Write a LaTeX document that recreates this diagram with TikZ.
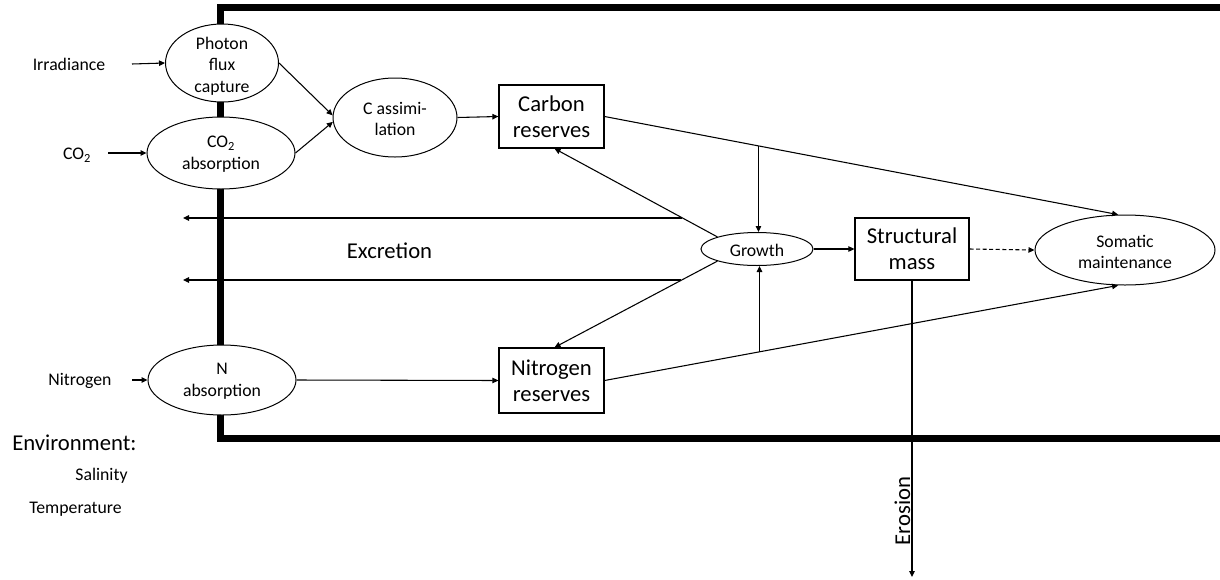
\documentclass[tikz,border=0pt]{standalone}
\usepackage{fontspec}
\setmainfont{Carlito}
\usetikzlibrary{arrows.meta,calc,shapes.geometric}
\newlength\upx
\setlength\upx{0.75pt}
\newcommand\bigtxt{\fontsize{17}{19.5}\selectfont}
\newcommand\smalltxt{\fontsize{13.3}{16.2}\selectfont}
\tikzset{
  ell/.style={ellipse, draw, fill=white, line width=0.75pt, inner sep=0pt},
  box/.style={rectangle, draw, fill=white, line width=0.9pt, inner sep=0pt, align=center, font=\bigtxt},
  stxt/.style={inner sep=0pt, align=center, font=\smalltxt},
  btxt/.style={inner sep=0pt, align=center, font=\bigtxt},
  arr/.style={line width=0.8pt, -{Triangle[length=4.5pt,width=4.1pt]}},
  frame/.style={line width=5.25pt, line join=miter}
}
\begin{document}
\begin{tikzpicture}[x=0.75pt,y=-0.75pt]
\clip (0,0) rectangle (1220,579);
\fill[white] (0,0) rectangle (1220,579);
% thick frame
\draw[frame] (1240,7.5) -- (220.5,7.5) -- (220.5,438) -- (1240,438);

% ellipses
\node[ell, minimum width=113\upx, minimum height=78\upx] (photon) at (222,63) {};
\node[stxt] (photon-t) at (222,66) {Photon\\flux\\capture};
\node[ell, minimum width=148\upx, minimum height=72\upx] (co2) at (221,153) {};
\node[stxt] (co2-t) at (221,154) {CO\textsubscript{2}\\absorption};
\node[ell, minimum width=124\upx, minimum height=79\upx] (cass) at (395,117.5) {};
\node[stxt] (cass-t) at (395,119) {C assimi-\\lation};
\node[ell, minimum width=148\upx, minimum height=70\upx] (nabs) at (222,380) {};
\node[stxt] (nabs-t) at (222,381) {N\\absorption};
\node[ell, minimum width=112\upx, minimum height=33\upx] (growth) at (757,249) {};
\node[stxt] (growth-t) at (757,250) {Growth};
\node[ell, minimum width=180\upx, minimum height=70\upx] (som) at (1125,250) {};
\node[stxt] (som-t) at (1125,252) {Somatic\\maintenance};

% boxes
\node[box, minimum width=105\upx, minimum height=63\upx] (carbon) at (551.5,116.5) {Carbon\\reserves};
\node[box, minimum width=105\upx, minimum height=65\upx] (nitro) at (551.5,380.5) {Nitrogen\\reserves};
\node[box, minimum width=114\upx, minimum height=62\upx] (struct) at (912,249) {Structural\\mass};

% external labels
\node[stxt] (irr) at (69,64) {Irradiance};
\node[stxt] (co2in) at (77,155) {CO\textsubscript{2}};
\node[stxt] (nin) at (80,381) {Nitrogen};
\node[btxt, anchor=west] (env) at (12,443) {Environment:};
\node[stxt] (sal) at (101.5,476) {Salinity};
\node[stxt] (temp) at (75.5,509) {Temperature};
\node[btxt] (excr) at (389.5,251) {Excretion};

% input arrows
\coordinate (irr-s) at (132,64);
\coordinate (co2-s) at (108,153);
\coordinate (nin-s) at (132,380);
\draw[arr] (irr-s) -- (photon.west);
\draw[arr] (co2-s) -- (co2.west);
\draw[arr] (nin-s) -- (nabs.west);

% assimilation chain
\draw[arr] (photon.east) -- (cass.178);
\draw[arr] (co2.east) -- (cass.184);
\draw[arr] (cass.east) -- (carbon.west);
\draw[arr] (nabs.east) -- (nitro.west);

% reserves to somatic maintenance
\draw[arr] (carbon.east) -- (som.101);
\draw[arr] (nitro.east) -- (som.259);

% reserves feeding growth
\coordinate (cdown) at ($(carbon.east)!0.2996!(som.101)$);
\coordinate (nup) at ($(nitro.east)!0.3016!(som.259)$);
\draw[arr] (cdown) -- (cdown |- growth.north);
\draw[arr] (nup) -- (nup |- growth.south);

% growth back to reserves
\draw[arr] (growth.163) -- ($(carbon.south)+(3,0)$);
\draw[arr] (growth.197) -- ($(nitro.north)+(3,0)$);

% excretion
\coordinate (ex1a) at (682,218);
\coordinate (ex1b) at (183,218);
\coordinate (ex2a) at (681,280);
\coordinate (ex2b) at (183,280);
\draw[arr] (ex1a) -- (ex1b);
\draw[arr] (ex2a) -- (ex2b);

% growth to structure, structure to maintenance
\draw[arr] (growth.east) -- (struct.west);
\draw[arr, dash pattern=on 3pt off 1.9pt] (struct.east) -- (som.west);

% erosion
\coordinate (eros) at (912,577);
\draw[arr] (struct.south) -- (eros);
\node[btxt, rotate=90, anchor=base] (eros-t) at (910,511) {Erosion};
\end{tikzpicture}
\end{document}
